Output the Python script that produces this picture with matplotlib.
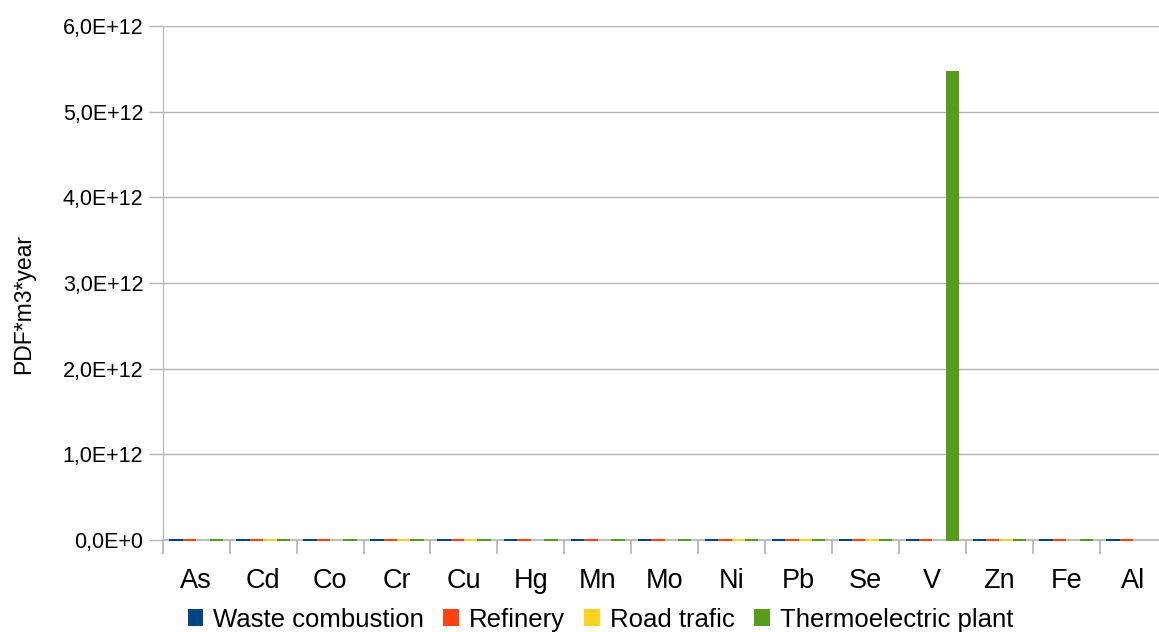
import numpy as np
import matplotlib.pyplot as plt
from matplotlib.ticker import FixedLocator

metals = ["As", "Cd", "Co", "Cr", "Cu", "Hg", "Mn", "Mo", "Ni", "Pb", "Se", "V", "Zn", "Fe", "Al"]
series = ["Waste combustion", "Refinery", "Road trafic", "Thermoelectric plant"]
colors = ["#004586", "#ff420e", "#ffd320", "#579d1c"]

# PDF*m3*year, all but V/thermoelectric are negligible at this scale
waste = [2e8, 1e8, 1e8, 3e8, 2e8, 1e8, 4e8, 1e8, 2e8, 3e8, 1e8, 5e8, 6e8, 2e8, 1e8]
refinery = [3e8, 2e8, 1e8, 5e8, 4e8, 1e8, 3e8, 2e8, 3e8, 2e8, 2e8, 6e8, 4e8, 3e8, 2e8]
road = [0, 1e8, 0, 2e8, 3e8, 0, 0, 0, 1e8, 4e8, 1e8, 0, 5e8, 0, 0]
thermo = [1e8, 2e8, 1e8, 4e8, 3e8, 1e8, 2e8, 3e8, 6e8, 2e8, 4e8, 5.48e12, 7e8, 5e8, 0]

plt.rcParams['font.family'] = ['Liberation Sans', 'DejaVu Sans']

fig = plt.figure(figsize=(11.59, 6.32), dpi=100)
ax = fig.add_axes([0.1404, 0.1456, 0.8662, 0.8133])

x = np.arange(len(metals))
w = 0.2
for i, (name, vals) in enumerate(zip(series, [waste, refinery, road, thermo])):
    vals = np.array(vals)
    pos = x - 0.4 + w * i
    ax.bar(pos, vals, width=w, align='edge', color=colors[i], label=name, zorder=3)
    # tiny bars still show as a thin coloured line on the baseline
    nz = vals > 0
    ax.hlines(np.zeros(nz.sum()), pos[nz], pos[nz] + w, colors=colors[i], lw=1.5,
              zorder=4, clip_on=False)

ax.set_xlim(-0.5, len(metals) - 0.5)
ax.set_ylim(0, 6e12)
ax.set_yticks(np.arange(0, 7e12, 1e12))
ax.set_yticklabels(["0,0E+0"] + ["%d,0E+12" % k for k in range(1, 7)], fontsize=15.5)
ax.yaxis.grid(True, color="#b3b3b3", lw=1, zorder=0)

ax.set_xticks(x)
ax.set_xticklabels(metals, fontsize=19.5)
ax.tick_params(axis='x', length=0, pad=20)
ax.xaxis.set_minor_locator(FixedLocator(np.arange(-0.5, len(metals), 1)))
ax.tick_params(axis='x', which='minor', length=10, color="#b3b3b3", width=1.2)
ax.tick_params(axis='y', length=10, color="#b3b3b3", width=1, pad=4)

for s in ["top", "right"]:
    ax.spines[s].set_visible(False)
ax.spines["left"].set_color("#b3b3b3")
ax.spines["bottom"].set_color("#b3b3b3")
ax.spines["bottom"].set_linewidth(1.2)

ax.set_ylabel("PDF*m3*year", fontsize=16.5)
ax.yaxis.set_label_coords(-0.127, 0.46)

fig.legend(loc="lower center", bbox_to_anchor=(0.518, -0.036), ncol=4, frameon=False,
           fontsize=18.5, handlelength=0.6, handleheight=0.6, handletextpad=0.4, columnspacing=0.75)

fig.savefig("out.png", dpi=100)
